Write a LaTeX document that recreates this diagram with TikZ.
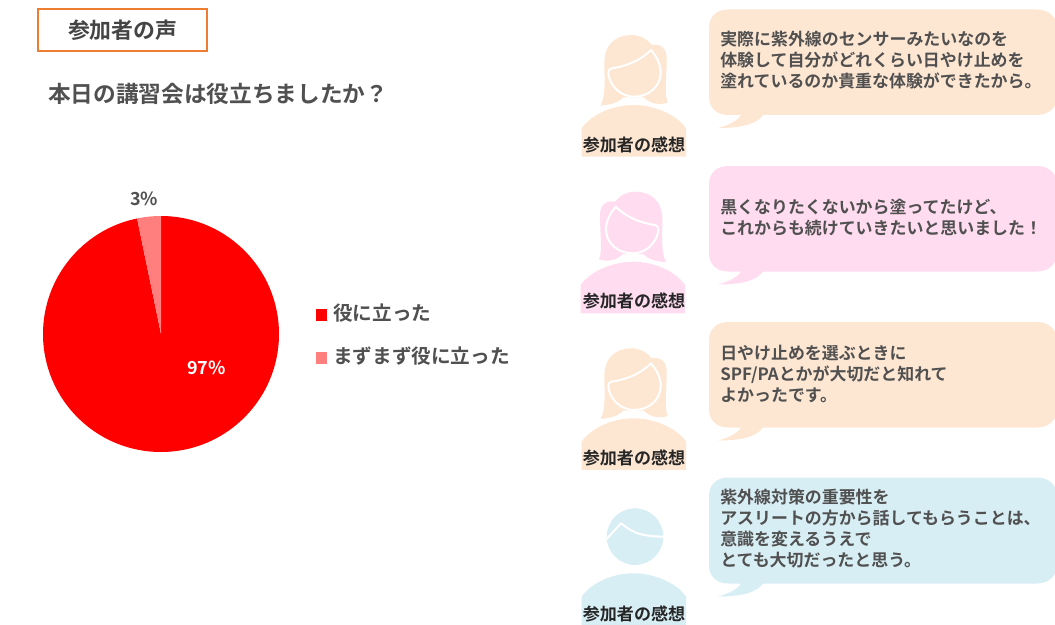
\documentclass[tikz,border=0pt]{standalone}
\usepackage{fontspec}
\setmainfont{Noto Sans CJK JP}
\newfontfamily\med{Noto Sans CJK JP Bold}
\definecolor{txt}{HTML}{505050}
\definecolor{peach}{HTML}{FEE7D2}
\definecolor{pink}{HTML}{FFDCEF}
\definecolor{sky}{HTML}{D8EEF5}
\definecolor{pale}{HTML}{FF7F7F}
\definecolor{orangeline}{HTML}{ED7D31}
\tikzset{
  x=0.75pt,y=-0.75pt,
  title/.style={inner sep=0,anchor=west,text=txt,font=\med\fontsize{17}{20}\selectfont},
  headbox/.style={draw=orangeline,line width=1.5pt,inner sep=0,text=txt!85!black,minimum width=126.4pt,minimum height=31.1pt,font=\med\fontsize{16.4}{20}\selectfont},
  bubbletext/.style={inner sep=0,anchor=north west,align=left,text=txt,font=\med\fontsize{12.7}{15.7}\selectfont},
  legendtext/.style={inner sep=0,anchor=west,text=txt,font=\med\fontsize{14.7}{18}\selectfont},
  piecetext/.style={inner sep=0,font=\med\fontsize{13.5}{16}\selectfont},
  who/.style={inner sep=0,text=black!85,font=\med\fontsize{12.8}{16}\selectfont},
  zoomed/.style={x=0.25pt,y=-0.25pt},
  faceline/.style={draw=white,line width=1.5pt,line join=round}
}
\newcommand{\womanshape}[1]{%
  \fill[#1] (92,316) .. controls (108,285) and (103,240) .. (103,190)
    .. controls (103,130) and (140,105) .. (185,105)
    .. controls (210,105) and (232,118) .. (245,135)
    .. controls (272,130) and (290,145) .. (290,175)
    .. controls (290,230) and (282,285) .. (293,308)
    .. controls (268,316) and (240,312) .. (222,292)
    -- (160,292)
    .. controls (145,308) and (118,316) .. (92,316) -- cycle;
  \draw[faceline] (243,150) .. controls (215,178) and (175,198) .. (125,205)
    .. controls (116,207) and (113,215) .. (116,228)
    .. controls (124,262) and (155,290) .. (192,290)
    .. controls (238,290) and (272,258) .. (272,218)
    .. controls (272,190) and (258,168) .. (243,150) -- cycle;
  \fill[#1] (35,470) -- (35,385) .. controls (65,342) and (130,315) .. (190,315)
    .. controls (250,315) and (318,342) .. (348,385) -- (348,470) -- cycle;
}
\newcommand{\bubbleshape}[3]{% top, bottom, colour
  \fill[#3] (728,#1) -- (1037,#1) .. controls (1049,#1) and (1057,#1+8) .. (1057,#1+18)
    -- (1057,#2-18) .. controls (1057,#2-8) and (1049,#2) .. (1037,#2) -- (763,#2)
    .. controls (757,#2+8) and (745,#2+13) .. (718,#2+13)
    .. controls (730,#2+10) and (738,#2+5) .. (741,#2) -- (728,#2)
    .. controls (716,#2) and (709,#2-8) .. (709,#2-18)
    -- (709,#1+18) .. controls (709,#1+8) and (716,#1) .. (728,#1) -- cycle;
}
\begin{document}
\begin{tikzpicture}
\useasboundingbox (0,0) rectangle (1055,624);
\clip (0,0) rectangle (1055,624);
\fill[white] (0,0) rectangle (1055,624);

% heading
\node[headbox] (head) at (122.7,30.2) {参加者の声};
\node[title] (question) at (48,94) {本日の講習会は役立ちましたか？};

% pie
\coordinate (pc) at (161,334);
\fill[red] (pc) -- (161,216) arc[start angle=90,end angle=-258.3,radius=88.5pt] -- cycle;
\fill[pale] (pc) -- (161,216) arc[start angle=90,end angle=101.7,radius=88.5pt] -- cycle;
\node[piecetext,text=txt] (p3) at (144,199) {3\%};
\node[piecetext,text=white] (p97) at (206.5,368) {97\%};

% legend
\fill[red] (315.7,309) rectangle (327.3,320.7);
\node[legendtext] (l1) at (333,313.5) {役に立った};
\fill[pale] (315.7,351.7) rectangle (327.3,363.5);
\node[legendtext] (l2) at (333,356) {まずまず役に立った};

% people
\begin{scope}[shift={(570,0)},zoomed]\womanshape{peach}\end{scope}
\begin{scope}[shift={(570,156.7)},zoomed,xscale=-1,xshift=-95pt]\womanshape{pink}\end{scope}
\begin{scope}[shift={(570,313.3)},zoomed]\womanshape{peach}\end{scope}
\begin{scope}[shift={(570,468.3)},zoomed]
  \fill[sky] (195,205) circle[radius=21.2pt];
  \draw[white,line width=1.5pt,line join=round] (110,212) -- (153,165) .. controls (180,185) and (200,205) .. (282,205);
  \fill[sky] (35,480) -- (35,385) .. controls (65,342) and (130,315) .. (190,315)
    .. controls (250,315) and (318,342) .. (348,385) -- (348,480) -- cycle;
\end{scope}
\node[who] (w1) at (634,145) {参加者の感想};
\node[who] (w2) at (634,301) {参加者の感想};
\node[who] (w3) at (634,457.5) {参加者の感想};
\node[who] (w4) at (634,613.5) {参加者の感想};

% bubbles
\bubbleshape{9.5}{115}{peach}
\bubbleshape{166}{271.5}{pink}
\bubbleshape{322}{427.5}{peach}
\bubbleshape{477.5}{583.5}{sky}
\node[bubbletext] (b1) at (720,31) {実際に紫外線のセンサーみたいなのを\\体験して自分がどれくらい日やけ止めを\\塗れているのか貴重な体験ができたから。};
\node[bubbletext] (b2) at (720,199) {黒くなりたくないから塗ってたけど、\\これからも続けていきたいと思いました！};
\node[bubbletext] (b3) at (720,345) {日やけ止めを選ぶときに\\SPF/PAとかが大切だと知れて\\よかったです。};
\node[bubbletext] (b4) at (720,489) {紫外線対策の重要性を\\アスリートの方から話してもらうことは、\\意識を変えるうえで\\とても大切だったと思う。};
\end{tikzpicture}
\end{document}
